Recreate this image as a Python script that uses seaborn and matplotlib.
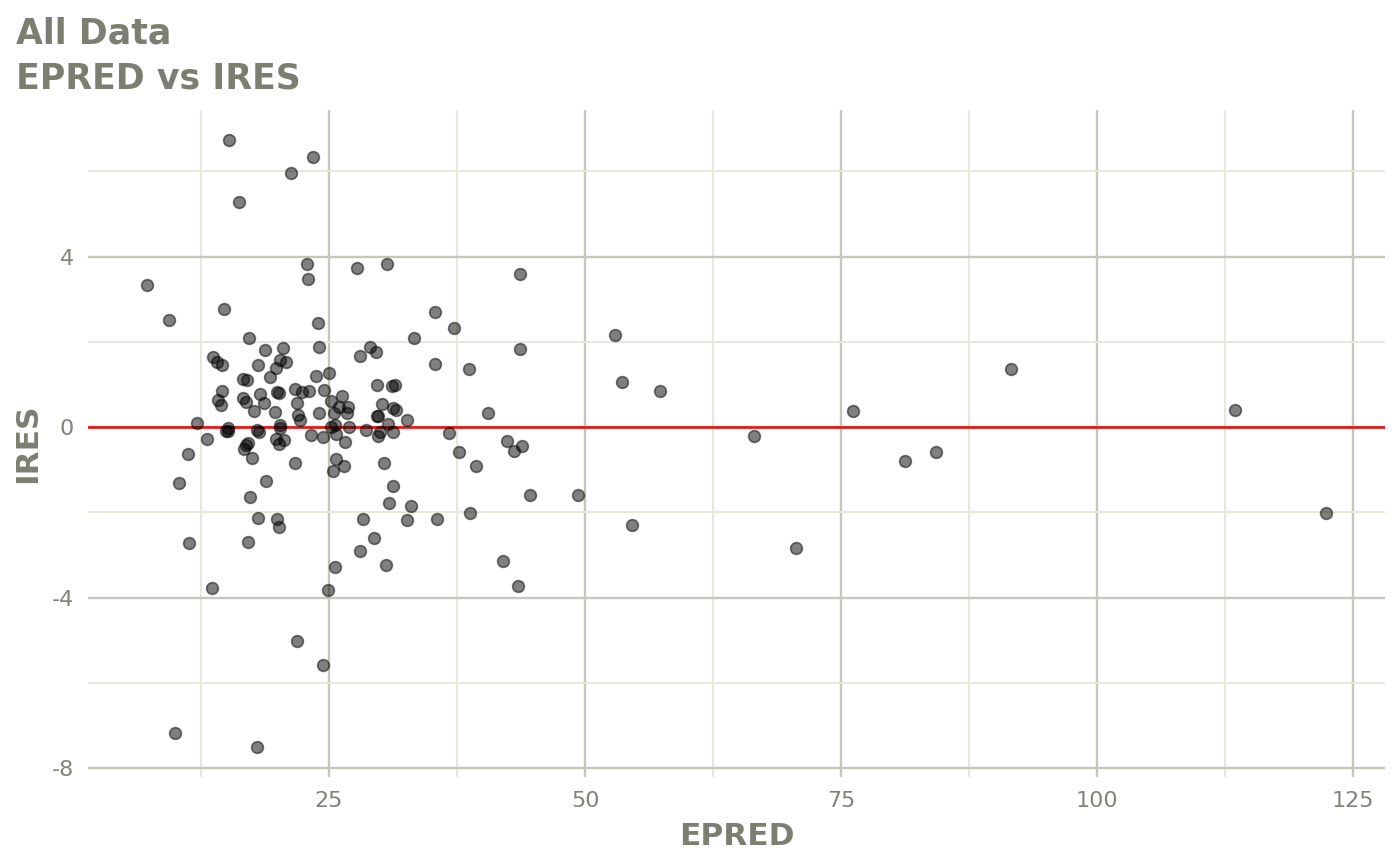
import matplotlib
matplotlib.use("Agg")
import matplotlib.pyplot as plt
from matplotlib.ticker import MultipleLocator, FixedLocator
import seaborn as sns
import pandas as pd

# Data
epred = [
    15.23, 23.44, 21.29, 16.21, 22.85, 22.95, 27.73, 30.62, 43.65, 7.23,
    9.38, 14.75, 23.93, 35.35, 37.16, 52.93, 33.25, 17.19, 18.75, 20.51,
    24.07, 29.00, 29.57, 27.98, 43.65, 13.67, 14.11, 14.58, 18.07, 20.24,
    20.80, 19.78, 24.98, 23.70, 19.27, 16.60, 16.99, 35.30, 38.62, 53.61,
    91.60, 57.32, 76.17, 113.48, 14.52, 18.26, 19.92, 20.07, 21.68, 22.41,
    23.00, 24.51, 26.29, 14.19, 14.42, 16.57, 16.85, 18.70, 17.70, 19.70,
    21.83, 21.99, 22.17, 24.02, 25.21, 25.96, 26.84, 26.78, 25.49, 29.67,
    31.17, 31.46, 30.13, 31.22, 31.54, 29.69, 29.79, 32.57, 40.53, 12.14,
    20.24, 20.26, 14.94, 15.17, 15.14, 17.99, 18.21, 25.15, 25.54, 26.98,
    28.63, 30.73, 29.98, 29.83, 31.28, 23.26, 24.46, 25.73, 26.58, 36.72,
    66.50, 13.12, 19.85, 20.56, 20.14, 42.38, 16.86, 17.06, 16.73, 43.85,
    43.07, 37.67, 84.28, 11.20, 17.45, 25.65, 21.68, 30.40, 26.49, 39.36,
    25.42, 81.25, 10.35, 18.82, 31.28, 17.29, 44.63, 49.32, 30.83, 33.04,
    38.74, 122.36, 18.10, 28.29, 19.92, 35.55, 32.59, 20.15, 54.59, 11.30,
    17.09, 29.39, 28.06, 70.61, 41.99, 30.57, 25.56, 43.46, 13.57, 24.93,
    21.88, 24.41, 9.96, 17.97,
]
ires = [
    6.73, 6.33, 5.96, 5.28, 3.82, 3.47, 3.73, 3.82, 3.59, 3.34,
    2.51, 2.76, 2.44, 2.70, 2.32, 2.16, 2.09, 2.08, 1.81, 1.86,
    1.87, 1.88, 1.76, 1.66, 1.83, 1.64, 1.52, 1.45, 1.45, 1.57,
    1.52, 1.38, 1.28, 1.20, 1.17, 1.14, 1.10, 1.49, 1.36, 1.06,
    1.36, 0.84, 0.38, 0.40, 0.85, 0.77, 0.82, 0.80, 0.90, 0.83,
    0.84, 0.88, 0.73, 0.63, 0.52, 0.69, 0.59, 0.57, 0.37, 0.35,
    0.56, 0.29, 0.16, 0.34, 0.62, 0.46, 0.47, 0.33, 0.32, 0.98,
    0.97, 0.98, 0.55, 0.45, 0.39, 0.27, 0.26, 0.16, 0.32, 0.09,
    0.05, -0.01, -0.09, -0.08, -0.02, -0.06, -0.12, 0.00, 0.05, -0.00,
    -0.06, 0.07, -0.12, -0.20, -0.12, -0.19, -0.24, -0.16, -0.35, -0.15,
    -0.21, -0.27, -0.27, -0.30, -0.39, -0.33, -0.41, -0.38, -0.51, -0.45,
    -0.56, -0.59, -0.59, -0.64, -0.73, -0.74, -0.84, -0.85, -0.91, -0.92,
    -1.02, -0.80, -1.31, -1.26, -1.39, -1.63, -1.59, -1.59, -1.77, -1.85,
    -2.02, -2.02, -2.13, -2.16, -2.16, -2.16, -2.17, -2.35, -2.30, -2.71,
    -2.69, -2.60, -2.90, -2.84, -3.14, -3.24, -3.29, -3.73, -3.78, -3.83,
    -5.02, -5.58, -7.17, -7.50,
]

x_ticks = [25, 50, 75, 100, 125]
y_ticks = [-8, -4, 0, 4]
y_tick_labels = ["-8", "-4", "0", "4"]

df = pd.DataFrame({"EPRED": epred, "IRES": ires})

sns.set_theme(style="white")
plt.rcParams["font.family"] = ["DejaVu Sans"]

text_col = "#7d7d72"
tick_col = "#828279"
major_col = "#c6c6b9"
minor_col = "#e7e7dc"

fig = plt.figure(figsize=(14, 8.65), dpi=100)
ax = fig.add_axes([88 / 1400, 88 / 865, (1385 - 88) / 1400, (777 - 110) / 865])

ax.set_xlim(1.47, 128.1)
ax.set_ylim(-8.21, 7.44)

ax.xaxis.set_major_locator(FixedLocator(x_ticks))
ax.xaxis.set_minor_locator(MultipleLocator(12.5))
ax.yaxis.set_major_locator(FixedLocator(y_ticks))
ax.set_yticklabels(y_tick_labels)
ax.yaxis.set_minor_locator(MultipleLocator(2))

ax.grid(which="major", color=major_col, linewidth=1.7, zorder=0)
ax.grid(which="minor", color=minor_col, linewidth=1.5, zorder=0)
ax.set_axisbelow(True)

ax.axhline(0, color="#ee1111", linewidth=1.9, zorder=2)

sns.scatterplot(data=df, x="EPRED", y="IRES", ax=ax, color="black",
                alpha=0.5, s=72, edgecolor="black", linewidth=1.2, zorder=3,
                legend=False)

for sp in ax.spines.values():
    sp.set_visible(False)

ax.tick_params(axis="both", which="major", length=6, width=1.6, color=tick_col,
               labelcolor=tick_col, labelsize=16, pad=4)
ax.tick_params(axis="both", which="minor", length=0)

ax.set_xlabel("EPRED", fontsize=22.5, fontweight="bold", color=text_col, labelpad=8)
ax.set_ylabel("IRES", fontsize=22.5, fontweight="bold", color=text_col, labelpad=7)

fig.text(16 / 1400, 1 - 16 / 865, "All Data\nEPRED vs IRES", ha="left", va="top",
         fontsize=25, fontweight="bold", color=text_col, linespacing=1.43)

fig.savefig("out.png", dpi=100)
